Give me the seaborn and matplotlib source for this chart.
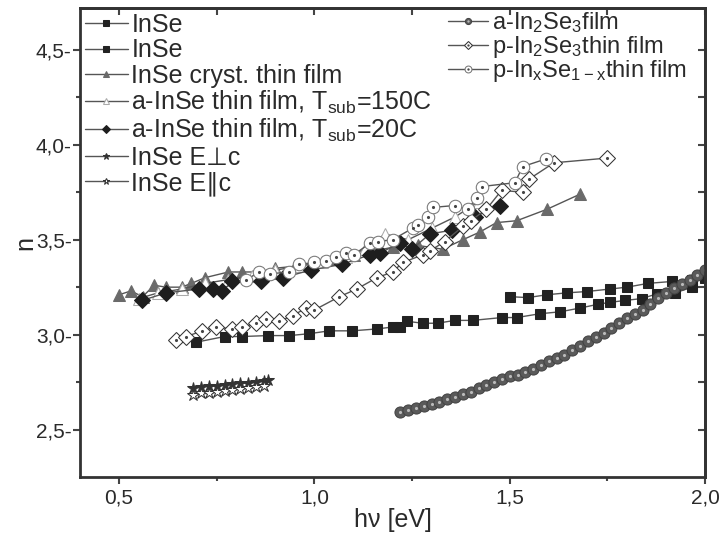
import matplotlib
matplotlib.use("Agg")
import matplotlib.pyplot as plt
import seaborn as sns
import pandas as pd

# --- data ---
E_inse1 = [1.50, 1.546, 1.595, 1.646, 1.697, 1.756, 1.80, 1.854, 1.915, 1.967, 2.0]
n_inse1 = [3.20, 3.195, 3.21, 3.22, 3.227, 3.24, 3.25, 3.27, 3.28, 3.29, 3.30]

E_inse2 = [0.697, 0.77, 0.815, 0.88, 0.936, 0.987, 1.038, 1.097, 1.16, 1.20, 1.218, 1.238, 1.277,
           1.315, 1.359, 1.405, 1.48, 1.518, 1.577, 1.628, 1.68, 1.726, 1.756, 1.795, 1.838,
           1.877, 1.923, 1.967]
n_inse2 = [2.96, 2.99, 2.99, 2.995, 2.995, 3.005, 3.02, 3.02, 3.03, 3.04, 3.04, 3.07, 3.06,
           3.06, 3.075, 3.075, 3.09, 3.09, 3.11, 3.12, 3.14, 3.16, 3.17, 3.18, 3.19,
           3.215, 3.22, 3.25]

E_cryst = [0.50, 0.53, 0.56, 0.59, 0.62, 0.66, 0.685, 0.72, 0.78, 0.815, 0.86, 0.90, 0.95, 1.00,
           1.05, 1.10, 1.15, 1.20, 1.264, 1.328, 1.38, 1.423, 1.466, 1.518, 1.595, 1.68]
n_cryst = [3.21, 3.23, 3.20, 3.26, 3.25, 3.25, 3.27, 3.30, 3.33, 3.33, 3.33, 3.35, 3.36, 3.38,
           3.40, 3.42, 3.44, 3.46, 3.47, 3.45, 3.50, 3.54, 3.59, 3.60, 3.66, 3.74]

E_a150 = [0.55, 0.60, 0.66, 0.72, 0.78, 0.84, 0.90, 0.96, 1.02, 1.08, 1.13, 1.18, 1.24, 1.30, 1.36, 1.42]
n_a150 = [3.19, 3.22, 3.24, 3.27, 3.29, 3.31, 3.34, 3.36, 3.38, 3.41, 3.45, 3.53, 3.50, 3.56, 3.62, 3.70]

E_a20 = [0.559, 0.62, 0.705, 0.74, 0.764, 0.79, 0.864, 0.92, 0.99, 1.07, 1.141, 1.167, 1.218,
         1.25, 1.295, 1.351, 1.41, 1.474]
n_a20 = [3.18, 3.22, 3.24, 3.24, 3.23, 3.28, 3.28, 3.30, 3.34, 3.37, 3.42, 3.43, 3.48,
         3.45, 3.53, 3.55, 3.62, 3.68]

E_perp = [0.69, 0.71, 0.73, 0.75, 0.77, 0.79, 0.81, 0.83, 0.85, 0.87, 0.88]
n_perp = [2.72, 2.725, 2.73, 2.73, 2.735, 2.74, 2.745, 2.745, 2.75, 2.755, 2.76]

E_par = [0.69, 0.71, 0.73, 0.75, 0.77, 0.79, 0.81, 0.83, 0.85, 0.87]
n_par = [2.68, 2.69, 2.69, 2.70, 2.705, 2.71, 2.715, 2.72, 2.725, 2.73]

E_ain2se3 = [1.22, 1.24, 1.26, 1.28, 1.30, 1.32, 1.34, 1.36, 1.38, 1.40, 1.42, 1.44, 1.46, 1.48,
             1.50, 1.52, 1.54, 1.56, 1.58, 1.60, 1.62, 1.64, 1.66, 1.68, 1.70, 1.72, 1.74, 1.76,
             1.78, 1.80, 1.82, 1.84, 1.86, 1.88, 1.90, 1.92, 1.94, 1.96, 1.98, 2.00]
n_ain2se3 = [2.595, 2.605, 2.615, 2.625, 2.635, 2.645, 2.66, 2.67, 2.685, 2.70, 2.72, 2.735, 2.75, 2.765,
             2.78, 2.79, 2.805, 2.82, 2.84, 2.86, 2.875, 2.895, 2.92, 2.94, 2.965, 2.99, 3.01, 3.035,
             3.06, 3.085, 3.11, 3.13, 3.16, 3.195, 3.22, 3.245, 3.265, 3.29, 3.315, 3.34]

E_pin2se3 = [0.646, 0.672, 0.713, 0.749, 0.79, 0.815, 0.851, 0.877, 0.91, 0.944, 0.979, 1.0, 1.064,
             1.108, 1.16, 1.20, 1.226, 1.277, 1.295, 1.333, 1.38, 1.40, 1.44, 1.479, 1.533, 1.55,
             1.613, 1.75]
n_pin2se3 = [2.97, 2.99, 3.02, 3.04, 3.03, 3.04, 3.06, 3.08, 3.07, 3.10, 3.14, 3.13, 3.20,
             3.24, 3.30, 3.33, 3.38, 3.42, 3.44, 3.49, 3.57, 3.60, 3.66, 3.76, 3.75, 3.82,
             3.905, 3.93]

E_pinse = [0.826, 0.859, 0.885, 0.936, 0.96, 1.0, 1.03, 1.055, 1.08, 1.10, 1.141, 1.162, 1.20,
           1.251, 1.264, 1.29, 1.303, 1.359, 1.392, 1.415, 1.428, 1.513, 1.533, 1.592]
n_pinse = [3.29, 3.33, 3.32, 3.33, 3.37, 3.38, 3.39, 3.41, 3.43, 3.42, 3.48, 3.49, 3.50,
           3.56, 3.58, 3.62, 3.67, 3.68, 3.66, 3.72, 3.78, 3.80, 3.885, 3.925]

x_ticks = [0.5, 1.0, 1.5, 2.0]
x_labels = ["0,5", "1,0", "1,5", "2,0"]
y_ticks = [2.5, 3.0, 3.5, 4.0, 4.5]
y_labels = ["2,5", "3,0", "3,5", "4,0", "4,5"]

sns.set_style("ticks")
plt.rcParams["font.family"] = ["Liberation Sans", "DejaVu Sans"]
plt.rcParams["mathtext.fontset"] = "custom"
plt.rcParams["mathtext.rm"] = "Liberation Sans"

txt = "#2a2a2a"
fig, ax = plt.subplots(figsize=(7.21, 5.36), dpi=100)
fig.subplots_adjust(left=0.111, right=0.978, top=0.985, bottom=0.11)

lc = "#555555"


def draw(E, n, label, dot=None, **kw):
    df = pd.DataFrame({"E": E, "n": n})
    before = len(ax.lines)
    sns.lineplot(data=df, x="E", y="n", ax=ax, estimator=None, sort=False,
                 color=lc, lw=1.0, label=label, **kw)
    line = ax.lines[before]
    if dot:
        d, = ax.plot(E, n, ls="none", marker=".", ms=2.5, color=dot, zorder=line.get_zorder() + 0.1)
        return (line, d)
    return line


h = []
h.append(draw(E_inse1, n_inse1, "InSe", marker="s", ms=7, mfc="#222222", mec="#222222"))
h.append(draw(E_inse2, n_inse2, "InSe", marker="s", ms=7, mfc="#222222", mec="#222222"))
h.append(draw(E_cryst, n_cryst, "InSe cryst. thin film", marker="^", ms=8, mfc="#6a6a6a", mec="#6a6a6a"))
h.append(draw(E_a150, n_a150, r"a-InSe thin film, T$\mathregular{_{sub}}$=150C", marker="^", ms=8,
              mfc="white", mec="#aaaaaa"))
h.append(draw(E_a20, n_a20, r"a-InSe thin film, T$\mathregular{_{sub}}$=20C", marker="D", ms=8,
              mfc="#1e1e1e", mec="#1e1e1e"))
h.append(draw(E_perp, n_perp, "InSe E\u22a5c", marker="*", ms=9, mfc="#333333", mec="#333333"))
h.append(draw(E_par, n_par, "InSe E\u2225c", marker="*", ms=9, mfc="white", mec="#333333"))
h2 = []
h2.append(draw(E_ain2se3, n_ain2se3, r"a-In$\mathregular{_2}$Se$\mathregular{_3}$film", dot="#bbbbbb",
               marker="o", ms=8, mfc="#5a5a5a", mec="#444444"))
h2.append(draw(E_pin2se3, n_pin2se3, r"p-In$\mathregular{_2}$Se$\mathregular{_3}$thin film", dot="#444444",
               marker="D", ms=8, mfc="white", mec="#333333"))
h2.append(draw(E_pinse, n_pinse, r"p-In$\mathregular{_x}$Se$\mathregular{_{1-x}}$thin film", dot="#444444",
               marker="o", ms=9, mfc="white", mec="#777777"))

labels1 = [l.get_label() for l in h]
labels2 = [l[0].get_label() for l in h2]
leg1 = ax.legend(h, labels1, loc="upper left", bbox_to_anchor=(0.0, 1.0), frameon=False,
                 fontsize=18, handlelength=1.7, handletextpad=0.15, labelspacing=0.05,
                 borderaxespad=0.1, borderpad=0.1, markerscale=0.55, labelcolor=txt)
ax.add_artist(leg1)
ax.legend(h2, labels2, loc="upper left", bbox_to_anchor=(0.585, 1.0), frameon=False,
          fontsize=17, handlelength=1.7, handletextpad=0.15, labelspacing=-0.06,
          borderaxespad=0.05, borderpad=0.05, markerscale=0.55, labelcolor=txt)

ax.set_xlim(0.4, 2.0)
ax.set_ylim(2.25, 4.72)
ax.set_xticks(x_ticks)
ax.set_xticklabels(x_labels)
ax.set_yticks(y_ticks)
ax.set_yticklabels([s + "-" for s in y_labels])
ax.set_xticks([0.75, 1.25, 1.75], minor=True)
ax.set_yticks([2.75, 3.25, 3.75, 4.25], minor=True)
ax.tick_params(which="both", direction="out", colors="#444444", labelcolor=txt, labelsize=15, width=1.5)
ax.tick_params(axis="y", which="major", length=0, pad=1)
ax.tick_params(which="major", length=5)
ax.tick_params(which="minor", length=3)

top = ax.secondary_xaxis("top")
top.set_xticks(x_ticks)
top.set_xticks([0.75, 1.25, 1.75], minor=True)
top.tick_params(which="both", direction="in", labeltop=False, length=5, width=1.5, colors="#444444")
right = ax.secondary_yaxis("right")
right.set_yticks(y_ticks)
right.set_yticks([2.75, 3.25, 3.75, 4.25], minor=True)
right.tick_params(which="both", direction="in", labelright=False, length=5, width=1.5, colors="#444444")

for s in ax.spines.values():
    s.set_linewidth(2.0)
    s.set_color("#333333")
for sa in (top, right):
    for s in sa.spines.values():
        s.set_linewidth(2.0)
        s.set_color("#333333")

ax.set_xlabel("h\u03bd [eV]", fontsize=18, color=txt, labelpad=0)
ax.set_ylabel("n", fontsize=18, color=txt, labelpad=-1)

fig.savefig("out.png", dpi=100)
